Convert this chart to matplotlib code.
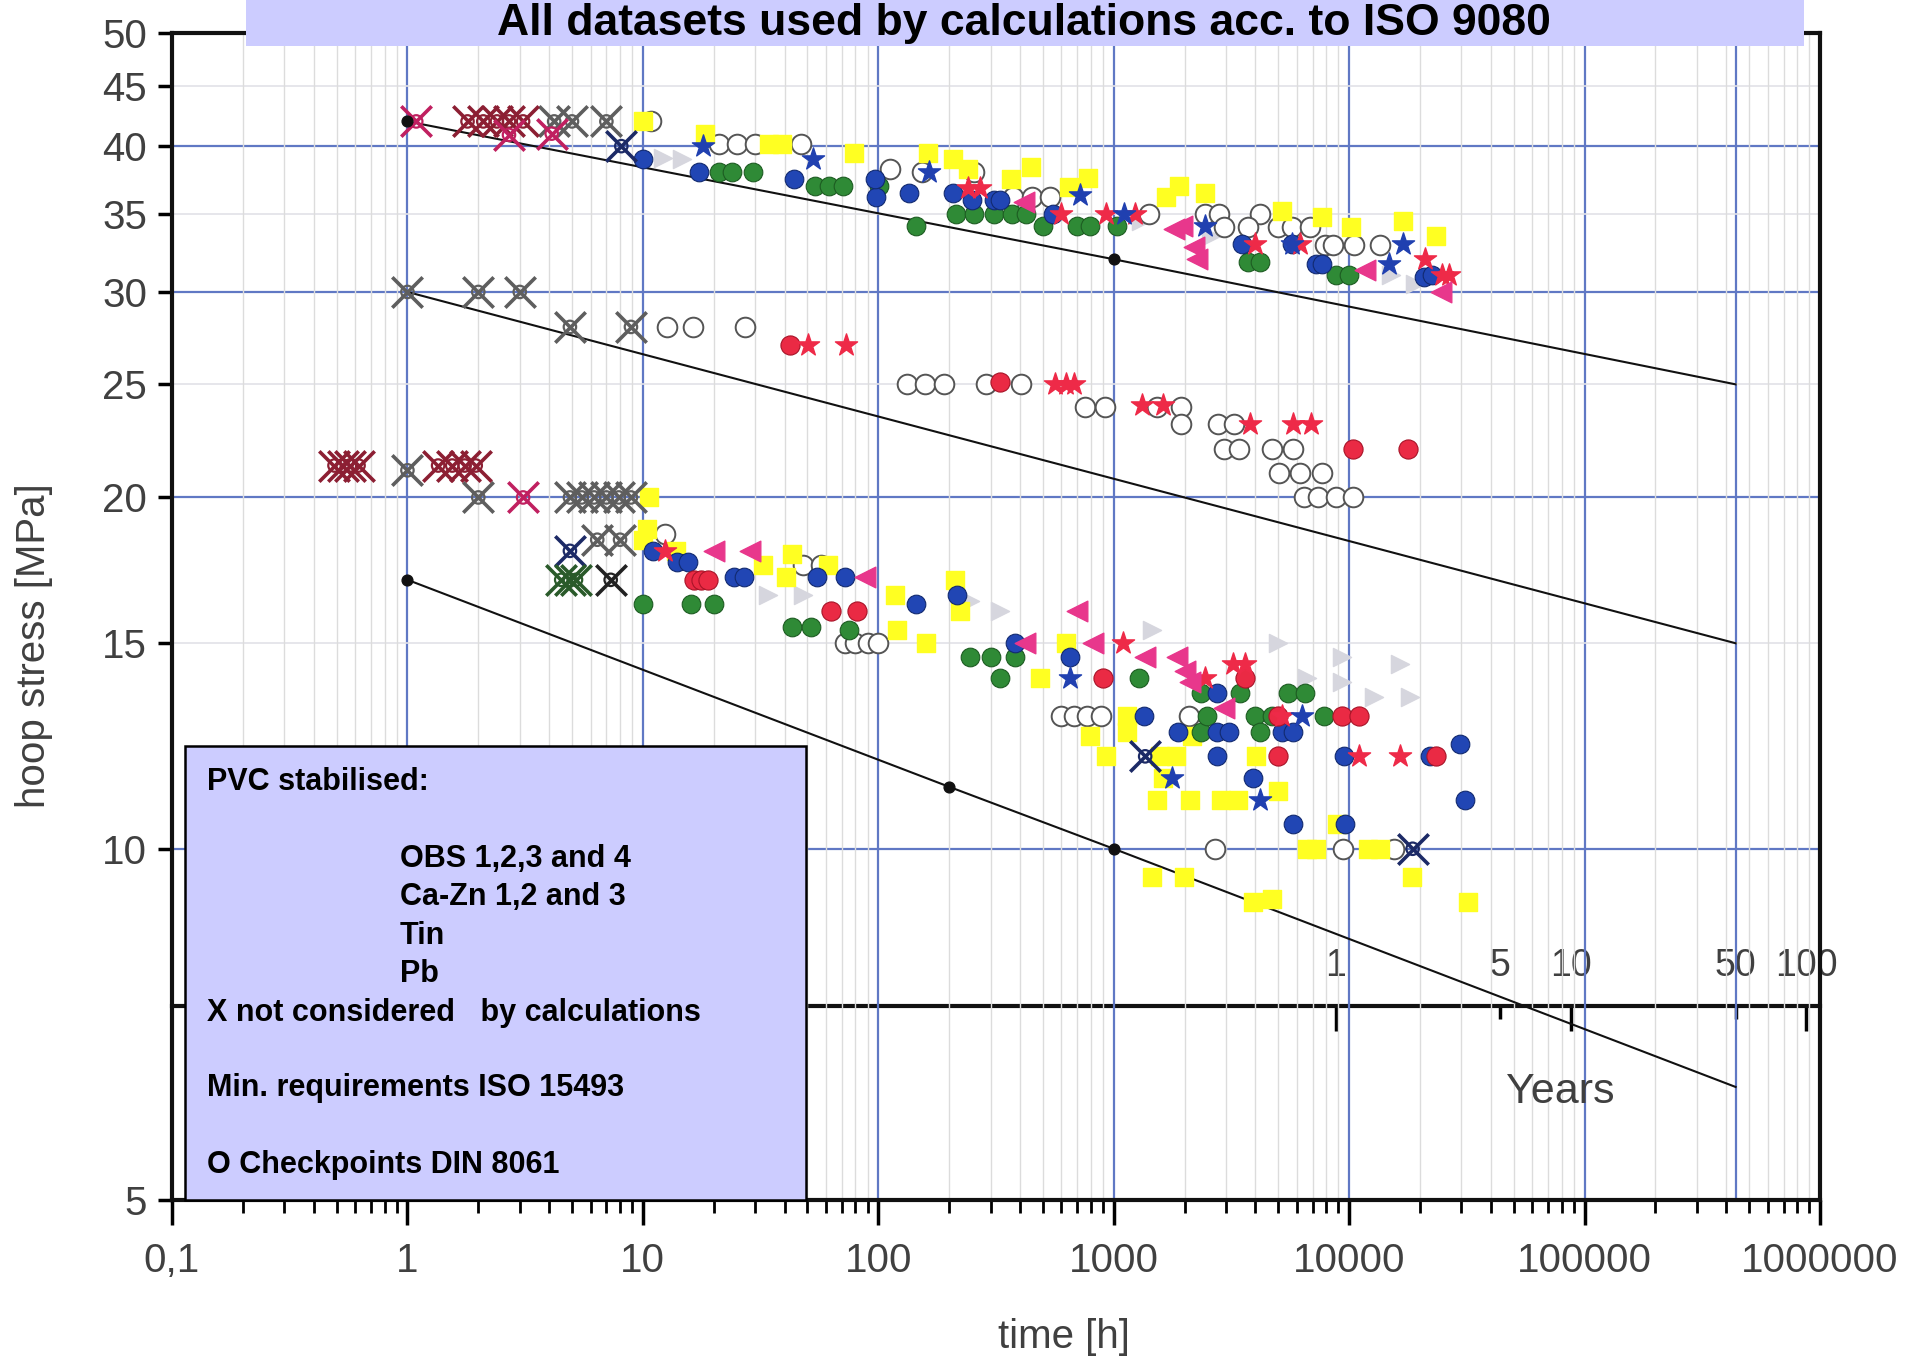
"""
Creep rupture data of stabilised PVC pipes (hoop stress vs. time, log-log),
with ISO 9080 / ISO 15493 reference lines and a secondary axis in years.
"""

import numpy as np
import matplotlib.pyplot as plt
from matplotlib.patches import Rectangle
from matplotlib.ticker import NullLocator, LogLocator

plt.rcParams['font.family'] = ['Liberation Sans', 'DejaVu Sans']

# ---------------------------------------------------------------- data
# reference lines (hours, MPa)
line1_h = [1, 1000, 438000]
line1_s = [42, 32, 25]
line2_h = [1, 438000]
line2_s = [30, 15]
line3_h = [1, 200, 1000, 438000]
line3_s = [17, 11.3, 10, 6.25]

# black check dots on the reference lines
dot_h = [1, 1000, 1, 200, 1000]
dot_s = [42, 32, 17, 11.3, 10]

# X = not considered by calculations
xgray_h = [4.2, 5.0, 7.0, 1, 2, 3.0, 4.9, 8.9, 1, 2, 4.9, 5.5, 6.2, 7.0, 7.9, 8.9, 6.4, 8.0]
xgray_s = [42, 42, 42, 30, 30, 30, 28, 28, 21.1, 20, 20, 20, 20, 20, 20, 20, 18.4, 18.4]
xred_h = [1.8, 2.1, 2.4, 2.7, 3.1, 0.49, 0.53, 0.57, 0.62, 1.35, 1.55, 1.75, 1.95]
xred_s = [42, 42, 42, 42, 42, 21.3, 21.3, 21.3, 21.3, 21.3, 21.3, 21.3, 21.3]
xmag_h = [1.09, 2.7, 4.1, 3.1]
xmag_s = [42, 40.9, 41, 20]
xnavy_h = [8.1, 4.9, 1360, 18600]
xnavy_s = [40, 18, 12, 10]
xgreen_h = [4.5, 4.9, 5.2]
xgreen_s = [17, 17, 17]
xblack_h = [7.3]
xblack_s = [17]

# O = checkpoints DIN 8061
open_h = [10.8, 21, 25, 30, 47, 112, 153, 255, 375, 450, 535, 1410, 2450, 2800, 4200,
          2930, 3700, 4990, 5690, 6800, 7900, 8500, 10500, 13500,
          12.7, 16.4, 27.1, 132, 158, 190, 288, 403, 755, 920, 1520, 1940,
          1940, 2760, 3250, 2930, 3400, 4700, 5800, 5050, 6200, 7700, 6400, 7400, 8800, 10400,
          12.4, 48, 57, 72, 80, 90, 100, 600, 680, 770, 880, 2080, 2700, 9400, 15500]
open_s = [42, 40.2, 40.2, 40.2, 40.2, 38.2, 38, 38, 36.2, 36.2, 36.2, 35, 35, 35, 35,
          34.1, 34.1, 34.1, 34.1, 34.1, 32.9, 32.9, 32.9, 32.9,
          28, 28, 28, 25, 25, 25, 25, 25, 23.9, 23.9, 23.9, 23.9,
          23.1, 23.1, 23.1, 22, 22, 22, 22, 21, 21, 21, 20, 20, 20, 20,
          18.6, 17.5, 17.5, 15, 15, 15, 15, 13, 13, 13, 13, 13, 10, 10, 10]

yellow_h = [10, 18.3, 34.5, 39, 79, 163, 208, 241, 366, 447, 645, 780, 1660, 1900, 2450,
            5200, 7700, 10200, 17000, 23300,
            10.6, 10.4, 10, 13.8, 32.5, 40.5, 43, 61, 118, 120, 160, 211, 223, 487, 630,
            790, 930, 1140, 1140, 1530, 1620, 1570, 1840, 2100, 2150, 1450, 1990, 2850,
            3370, 4040, 3900, 4700, 4970, 6600, 7200, 8900, 12000, 13500, 18500, 32000]
yellow_s = [42, 41, 40.2, 40.2, 39.5, 39.5, 39, 38.2, 37.5, 38.4, 36.9, 37.6, 36.2, 37, 36.5,
            35.2, 34.8, 34.1, 34.5, 33.5,
            20, 18.8, 18.4, 18, 17.5, 17.1, 17.9, 17.5, 16.5, 15.4, 15, 17, 16, 14, 15,
            12.5, 12, 13, 12.6, 11, 11.5, 12, 12, 11, 12.5, 9.45, 9.45, 11,
            11, 12, 9.0, 9.05, 11.2, 10, 10, 10.5, 10, 10, 9.45, 9.0]

blue_h = [10, 17.3, 44, 98, 135, 97, 208, 250, 310, 330, 550, 3500, 5700, 7200, 7700, 20700, 22500,
          11, 14, 15.5, 24.5, 27, 55, 72, 215, 145, 380, 650, 1340, 1880, 2750, 3100, 2750,
          2750, 3900, 5200, 5800, 5800, 9500, 9600, 22000, 29500, 31000]
blue_s = [39, 38, 37.5, 36.2, 36.5, 37.5, 36.5, 36, 36, 36, 35, 33, 33, 31.7, 31.7, 30.9, 31,
          18, 17.6, 17.6, 17.1, 17.1, 17.1, 17.1, 16.5, 16.2, 15, 14.6, 13, 12.6, 12.6, 12.6, 13.6,
          12, 11.5, 12.6, 12.6, 10.5, 12, 10.5, 12, 12.3, 11]

green_h = [21, 24, 29.5, 54, 62, 71, 101, 144, 214, 255, 310, 370, 425, 500, 700, 790, 1030,
           3700, 4200, 8800, 10000,
           10, 16, 20, 43, 52, 75, 245, 300, 380, 330, 1280, 2350, 3450, 2350, 2500, 4000,
           4700, 4200, 5500, 6500, 7800]
green_s = [38, 38, 38, 37, 37, 37, 37, 34.2, 35, 35, 35, 35, 35, 34.2, 34.2, 34.2, 34.2,
           31.8, 31.8, 31, 31,
           16.2, 16.2, 16.2, 15.5, 15.5, 15.4, 14.6, 14.6, 14.6, 14, 14, 13.6, 13.6, 12.6, 13, 13,
           13, 12.6, 13.6, 13.6, 13]

red_h = [42, 330, 10400, 17700, 16.5, 17.7, 19, 63, 81, 900, 3600, 5000, 9300, 11000, 5000, 23300]
red_s = [27, 25.1, 22, 22, 17, 17, 17, 16, 16, 14, 14, 13, 13, 13, 12, 12]

redstar_h = [50.5, 73, 565, 630, 680, 1320, 1620, 3800, 5800, 6900, 240, 270, 600, 925, 1230,
             4000, 6200, 21000, 24800, 26500, 1100, 2450, 3200, 3600, 11000, 16400, 5200, 12.4]
redstar_s = [27, 27, 25, 25, 25, 24, 24, 23.1, 23.1, 23.1, 36.8, 36.8, 35, 35, 35,
             33, 33, 32, 31, 31, 15, 14, 14.4, 14.4, 12, 12, 13, 18]

bluestar_h = [18, 53, 164, 720, 1110, 2450, 5700, 17000, 14800, 650, 1770, 4200, 6300]
bluestar_s = [40, 39, 38, 36.3, 35, 34.2, 33, 33, 31.7, 14, 11.5, 11, 13]

pink_h = [1950, 2250, 11700, 2200, 1800, 415, 24500, 20, 28.5, 88, 420, 700, 820, 1360, 1850,
          2000, 2100, 2930]
pink_s = [34.2, 32, 31.3, 32.8, 34, 35.8, 30, 18, 18, 17.1, 15, 16, 15, 14.6, 14.6,
          14.2, 13.9, 13.2]

lgray_h = [330, 1450, 5000, 9300, 16400, 12700, 18200, 6600, 9300, 245, 34, 48,
           14.6, 12.2, 1300, 2600, 15000, 19000]
lgray_s = [16, 15.4, 15, 14.6, 14.4, 13.5, 13.5, 14, 13.9, 16.3, 16.5, 16.5,
           39, 39.1, 34.5, 33.5, 31, 30.5]

# axes
x_ticks = [0.1, 1, 10, 100, 1000, 10000, 100000, 1000000]
x_labels = ['0,1', '1', '10', '100', '1000', '10000', '100000', '1000000']
y_ticks = [5, 10, 15, 20, 25, 30, 35, 40, 45, 50]
year_major = [1, 10, 100]
year_minor = [5, 50]
HOURS_PER_YEAR = 8760
YEARS_AXIS_MPA = 7.33
Y_MIN, Y_MAX = 5, 50

blue_vlines = [1, 10, 100, 1000, 10000, 100000, 438000]
blue_hlines = [10, 20, 30, 40]
gray_hlines = [15, 25, 35, 45]

legend_lines = [
    ('PVC stabilised:', 0.1083, 0.4250),
    ('OBS 1,2,3 and 4', 0.2093, 0.3684),
    ('Ca-Zn 1,2 and 3', 0.2093, 0.3404),
    ('Tin', 0.2093, 0.3118),
    ('Pb', 0.2093, 0.2838),
    ('X not considered   by calculations', 0.1083, 0.2551),
    ('Min. requirements ISO 15493', 0.1083, 0.2000),
    ('O Checkpoints DIN 8061', 0.1083, 0.1434),
]

# ---------------------------------------------------------------- figure
fig = plt.figure(figsize=(19.11, 13.60), dpi=100)
ax = fig.add_axes([0.0900, 0.1176, 0.8624, 0.8581])
ax.set_xscale('log')
ax.set_yscale('log')
ax.set_xlim(0.1, 1000000)
ax.set_ylim(Y_MIN, Y_MAX)

# grid
ax.xaxis.set_minor_locator(LogLocator(base=10, subs=range(2, 10), numticks=20))
ax.grid(which='minor', axis='x', color='#dcdcdc', lw=1.0, zorder=0)
for v in blue_vlines:
    ax.axvline(v, color='#6078c4', lw=1.6, zorder=1)
for h in blue_hlines:
    ax.axhline(h, color='#6078c4', lw=1.6, zorder=1)
for h in gray_hlines:
    ax.axhline(h, color='#e2e2e8', lw=1.2, zorder=1)

# reference lines
for lh, ls in [(line1_h, line1_s), (line2_h, line2_s), (line3_h, line3_s)]:
    ax.plot(lh, ls, color='#111111', lw=1.5, zorder=2)

# data markers
ax.scatter(lgray_h, lgray_s, marker='>', s=170, c='#d6d6de', zorder=3)
ax.scatter(open_h, open_s, marker='o', s=200, facecolors='white', edgecolors='#555555',
           linewidths=1.4, zorder=3)
ax.scatter(yellow_h, yellow_s, marker='s', s=170, c='#ffff22', zorder=3)
ax.scatter(green_h, green_s, marker='o', s=180, c='#2f8a36', edgecolors='#1d5c22',
           linewidths=0.8, zorder=4)
ax.scatter(blue_h, blue_s, marker='o', s=180, c='#2146b4', edgecolors='#122a70',
           linewidths=0.8, zorder=4)
ax.scatter(red_h, red_s, marker='o', s=190, c='#ea2a44', edgecolors='#a81428',
           linewidths=0.8, zorder=4)
ax.scatter(redstar_h, redstar_s, marker='*', s=280, c='#ee2a48', zorder=4)
ax.scatter(bluestar_h, bluestar_s, marker='*', s=280, c='#2040b0', zorder=4)
ax.scatter(pink_h, pink_s, marker='<', s=220, c='#e8378c', zorder=4)


def crossed(hours, mpa, color):
    ax.scatter(hours, mpa, marker='o', s=80, facecolors='none', edgecolors=color,
               linewidths=1.6, zorder=5)
    ax.scatter(hours, mpa, marker='x', s=480, c=color, linewidths=2.6, zorder=5)


crossed(xgray_h, xgray_s, '#5e5e5e')
crossed(xred_h, xred_s, '#8c1f33')
crossed(xmag_h, xmag_s, '#c02060')
crossed(xnavy_h, xnavy_s, '#1c2a66')
crossed(xgreen_h, xgreen_s, '#2a5a2a')
crossed(xblack_h, xblack_s, '#222222')

ax.scatter(dot_h, dot_s, marker='o', s=60, c='#111111', zorder=6)

# axes styling
for sp in ax.spines.values():
    sp.set_linewidth(3)
    sp.set_color('#111111')
ax.set_xticks(x_ticks)
ax.set_xticklabels(x_labels)
ax.yaxis.set_minor_locator(NullLocator())
ax.set_yticks(y_ticks)
ax.set_yticklabels([str(v) for v in y_ticks])
ax.tick_params(axis='x', which='major', direction='out', length=18, width=2.5,
               labelsize=29, labelcolor='#404040', pad=12)
ax.tick_params(axis='x', which='minor', direction='out', length=9, width=2)
ax.tick_params(axis='y', which='major', direction='out', length=10, width=2.5,
               labelsize=29, labelcolor='#404040', pad=8)

# secondary axis in years, drawn as a line across the plot at YEARS_AXIS_MPA
loc = (np.log10(YEARS_AXIS_MPA) - np.log10(Y_MIN)) / (np.log10(Y_MAX) - np.log10(Y_MIN))
yr = ax.secondary_xaxis(loc, functions=(lambda h: h / HOURS_PER_YEAR,
                                        lambda y: y * HOURS_PER_YEAR))
yr.set_alignment('top')
yr.set_xticks(year_major, labels=[str(v) for v in year_major])
yr.set_xticks(year_minor, labels=[str(v) for v in year_minor], minor=True)
yr.tick_params(axis='x', which='major', direction='in', length=18, width=2.5,
               labelsize=27, labelcolor='#404040', pad=16)
yr.tick_params(axis='x', which='minor', direction='in', length=9, width=2.5,
               labelsize=27, labelcolor='#404040', pad=16)
for sp in yr.spines.values():
    sp.set_linewidth(3)
    sp.set_color('#111111')
fig.text(0.8163, 0.197, 'Years', fontsize=31, color='#404040', ha='center', va='center')

# axis labels
fig.text(0.5568, 0.0169, 'time [h]', fontsize=29, color='#404040', ha='center', va='center')
fig.text(0.0178, 0.525, 'hoop stress [MPa]', fontsize=29, color='#404040', ha='center',
         va='center', rotation=90)

# title box
fig.add_artist(Rectangle((246 / 1911, 1 - 46 / 1360), (1804 - 246) / 1911, 0.05,
                         transform=fig.transFigure, facecolor='#ccccff', edgecolor='none',
                         zorder=5))
fig.text(0.536, 1 - 35 / 1360, 'All datasets used by calculations acc. to ISO 9080',
         fontsize=32, fontweight='bold', ha='center', va='baseline', color='black', zorder=6)

# legend box
fig.add_artist(Rectangle((185 / 1911, 1 - 1200 / 1360), 621 / 1911, (1200 - 746) / 1360,
                         transform=fig.transFigure, facecolor='#ccccff', edgecolor='black',
                         lw=1.8, zorder=5))
for txt, lx, ly in legend_lines:
    fig.text(lx, ly, txt, fontsize=22, fontweight='bold', ha='left', va='center',
             color='black', zorder=6)

fig.savefig('out.png', dpi=100, facecolor='white')
